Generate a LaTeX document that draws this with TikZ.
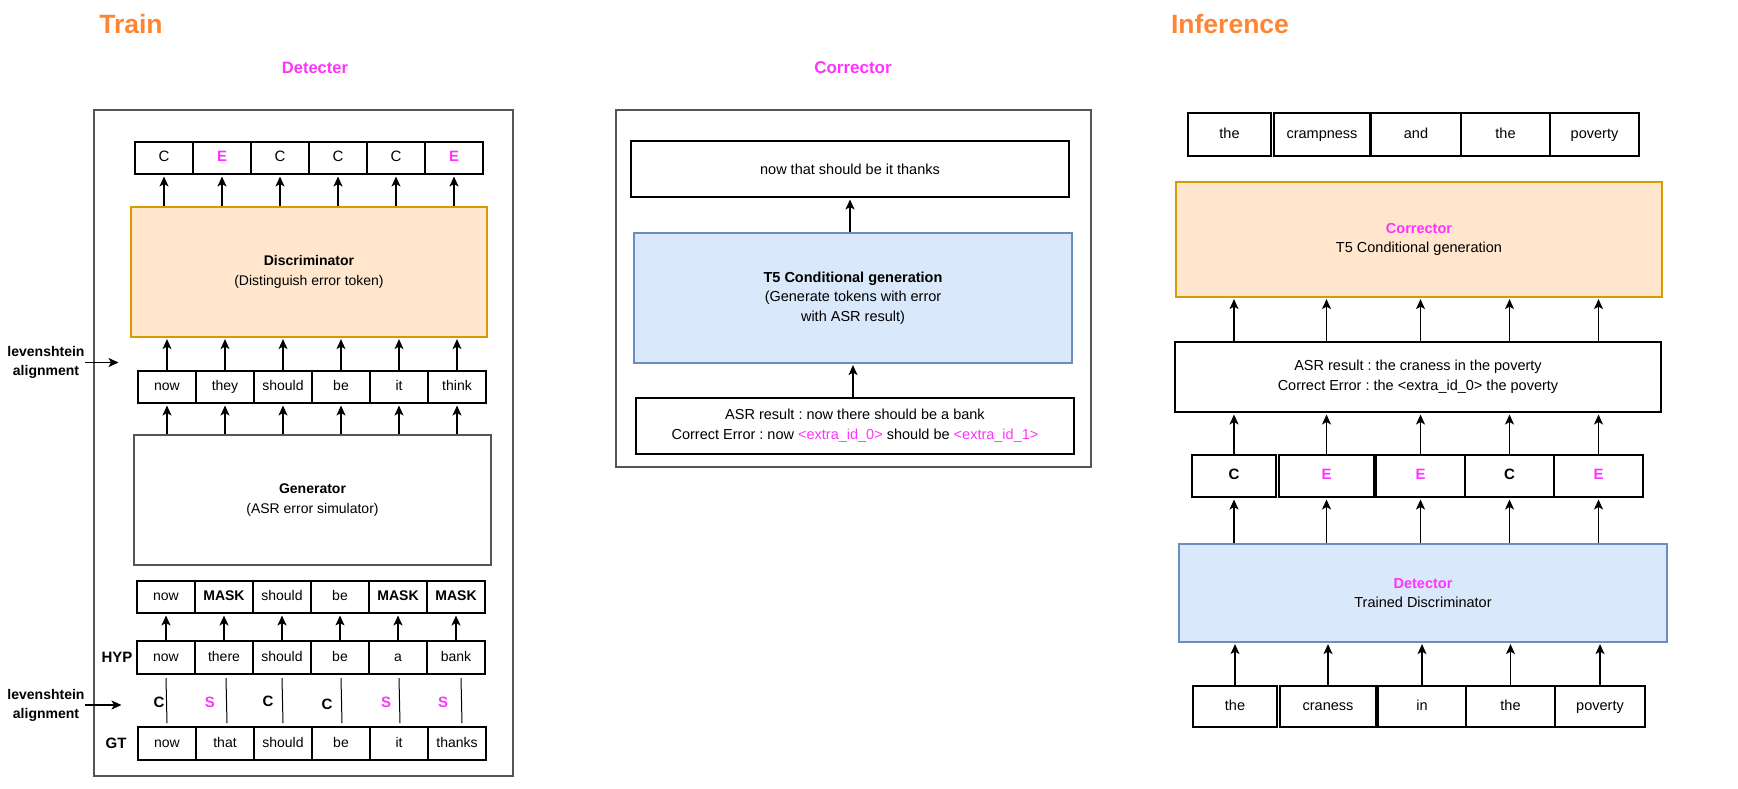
\documentclass[tikz,border=0pt]{standalone}
\usepackage{fontspec}
\setmainfont{Liberation Sans}
\usetikzlibrary{arrows.meta}
\definecolor{mag}{HTML}{FF33FF}
\definecolor{ttlc}{HTML}{FF8533}
\definecolor{ofill}{HTML}{FFE6CC}
\definecolor{odraw}{HTML}{D79B00}
\definecolor{bfill}{HTML}{DAE8FC}
\definecolor{bdraw}{HTML}{6C8EBF}
\definecolor{framec}{HTML}{555555}
\newcommand\myfs[2]{\fontsize{#1}{#2}\selectfont}
\newcommand\myE{\textcolor{mag}{\bfseries E}}
\newcommand\myS{\textcolor{mag}{\bfseries S}}
\newcommand\myC{\textbf{C}}
\frenchspacing
\begin{document}
\begin{tikzpicture}[x=1pt,y=-1pt,
  arr/.style={-{Stealth[length=10pt,width=9pt,inset=2.5pt]},line width=1.2pt,shorten >=1.5pt},
  cell/.style={draw,line width=2pt,inner sep=0pt,minimum width=58pt,minimum height=32pt,text height=10pt,text depth=3pt,font=\myfs{14pt}{17pt}},
  icell/.style={draw,line width=2pt,inner sep=0pt,text height=10.5pt,text depth=3pt,font=\myfs{14.5pt}{18pt}},
  frame/.style={draw=framec,line width=1.2pt},
  oblock/.style={draw=odraw,fill=ofill,line width=1.2pt,inner sep=0pt,align=center},
  bblock/.style={draw=bdraw,fill=bfill,line width=1.2pt,inner sep=0pt,align=center},
  gblock/.style={draw=framec,line width=1.2pt,inner sep=0pt,align=center},
  tbox/.style={draw,line width=2pt,inner sep=0pt,align=center,font=\myfs{14.5pt}{20pt}},
  bigttl/.style={font=\myfs{26.5pt}{30pt}\bfseries,text=ttlc,inner sep=0pt},
  subttl/.style={font=\myfs{16.5pt}{20pt}\bfseries,text=mag,inner sep=0pt},
  bl/.style={font=\myfs{14pt}{19pt}\bfseries,inner sep=0pt,align=center},
]
\useasboundingbox (0,0) rectangle (1738,788);

% ---------------- Train / Detecter ----------------
\node[bigttl] (ttrain) at (131,24) {Train};
\node[subttl] (tdet) at (315,68) {Detecter};
\draw[frame] (94,110) rectangle (513,776);

\foreach \t [count=\i] in {C,\myE,C,C,C,\myE}
  \node[cell,font=\myfs{15pt}{18pt}] (d\i) at ({164+58*(\i-1)},158) {\t};

\node[oblock,minimum width=356pt,minimum height=130pt,font=\myfs{14pt}{20pt}] (disc) at (309,272)
  {\textbf{Discriminator}\\(Distinguish error token)};
\foreach \i in {1,...,6} \draw[arr] (disc.north -| d\i) -- (d\i.south);

\foreach \t [count=\i] in {now,they,should,be,it,think}
  \node[cell] (r\i) at ({167+58*(\i-1)},387) {\t};
\foreach \i in {1,...,6} \draw[arr] (r\i.north) -- (disc.south -| r\i);

\node[gblock,minimum width=357pt,minimum height=130pt,font=\myfs{14pt}{20pt}] (gen) at (312.5,500)
  {\textbf{Generator}\\(ASR error simulator)};
\foreach \i in {1,...,6} \draw[arr] (gen.north -| r\i) -- (r\i.south);

\foreach \t [count=\i] in {now,\textbf{MASK},should,be,\textbf{MASK},\textbf{MASK}}
  \node[cell] (m\i) at ({166+58*(\i-1)},597) {\t};

\foreach \t [count=\i] in {now,there,should,be,a,bank}
  \node[cell,minimum height=33pt] (h\i) at ({166+58*(\i-1)},657.5) {\t};
\foreach \i in {1,...,6} \draw[arr] (h\i.north) -- (m\i.south);

\foreach \t [count=\i] in {now,that,should,be,it,thanks}
  \node[cell,minimum height=33pt] (g\i) at ({167+58*(\i-1)},743.5) {\t};

\node[bl,font=\myfs{15pt}{18pt}\bfseries] (lhyp) at (117,657.5) {HYP};
\node[bl,font=\myfs{15pt}{18pt}\bfseries] (lgt) at (116,743.5) {GT};

\foreach \i/\o in {1/0,2/2,3/0,4/1,5/1,6/5}
  \draw[line width=1pt] ([xshift=\o pt,yshift=-3pt]h\i.south) -- ([xshift=\o pt,yshift=3pt]g\i.north);

\foreach \t/\x/\y [count=\i] in {\myC/159/702,\myS/210/702,\myC/268/701,\myC/327/704,\myS/386/702,\myS/443/702}
  \node[inner sep=0pt,font=\myfs{15pt}{18pt}] (al\i) at (\x,\y) {\t};

\node[bl] (lev1) at (46,362.5) {levenshtein\\alignment};
\coordinate (lev1e) at (120,362.5);
\draw[arr] (lev1.east) -- (lev1e);
\node[bl] (lev2) at (46,705) {levenshtein\\alignment};
\coordinate (lev2e) at (123,705);
\draw[arr] (lev2.east) -- (lev2e);

% ---------------- Corrector ----------------
\node[subttl,font=\myfs{17pt}{20pt}\bfseries] (tcor) at (853,68) {Corrector};
\draw[frame] (616,110) rectangle (1091,467);

\node[tbox,minimum width=438pt,minimum height=56pt] (cout) at (850,169) {now that should be it thanks};
\node[bblock,minimum width=438pt,minimum height=130pt,font=\myfs{14.5pt}{19.5pt}] (t5) at (853,298)
  {\textbf{T5 Conditional generation}\\(Generate tokens with error\\with ASR result)};
\node[tbox,minimum width=438pt,minimum height=56pt] (cin) at (855,426)
  {ASR result : now there should be a bank\\Correct Error : now \textcolor{mag}{<extra\_id\_0>} should be \textcolor{mag}{<extra\_id\_1>}};
\draw[arr] (t5.north -| cout) -- (cout.south);
\draw[arr] (cin.north -| t5) -- (t5.south);

% ---------------- Inference ----------------
\node[bigttl] (tinf) at (1230,24) {Inference};

\foreach \a/\b/\t [count=\i] in {1188/1271/the,1274/1370/crampness,1371/1461/and,1461/1550/the,1550/1639/poverty}
  \node[icell,minimum width={\b-\a},minimum height=43pt] (o\i) at ({(\a+\b)/2},134.5) {\t};

\node[oblock,minimum width=486pt,minimum height=115pt,font=\myfs{14.5pt}{19.5pt}] (icor) at (1419,239.5)
  {\textcolor{mag}{\bfseries Corrector}\\T5 Conditional generation};

\node[tbox,minimum width=486pt,minimum height=70pt] (asr) at (1418,377)
  {ASR result : the craness in the poverty\\Correct Error : the <extra\_id\_0> the poverty};

\foreach \a/\b/\t [count=\i] in {1192/1276/\myC,1279/1374/\myE,1376/1465/\myE,1465/1554/\myC,1554/1643/\myE}
  \node[icell,font=\myfs{15pt}{18pt},minimum width={\b-\a},minimum height=42pt] (c\i) at ({(\a+\b)/2},476) {\t};

\foreach \i in {1,...,5} {
  \draw[arr] (asr.north -| c\i) -- (icor.south -| c\i);
  \draw[arr] (c\i.north) -- (asr.south -| c\i);
}

\node[bblock,minimum width=488pt,minimum height=98pt,font=\myfs{14.5pt}{19.5pt}] (idet) at (1423,593)
  {\textcolor{mag}{\bfseries Detector}\\Trained Discriminator};
\foreach \i in {1,...,5} \draw[arr] (idet.north -| c\i) -- (c\i.south);

\foreach \a/\b/\t [count=\i] in {1193/1277/the,1280/1376/craness,1378/1466/in,1466/1555/the,1555/1645/poverty}
  \node[icell,minimum width={\b-\a},minimum height=41pt] (b\i) at ({(\a+\b)/2},706.5) {\t};
\foreach \i in {1,...,5} \draw[arr] (b\i.north) -- (idet.south -| b\i);

\end{tikzpicture}
\end{document}
